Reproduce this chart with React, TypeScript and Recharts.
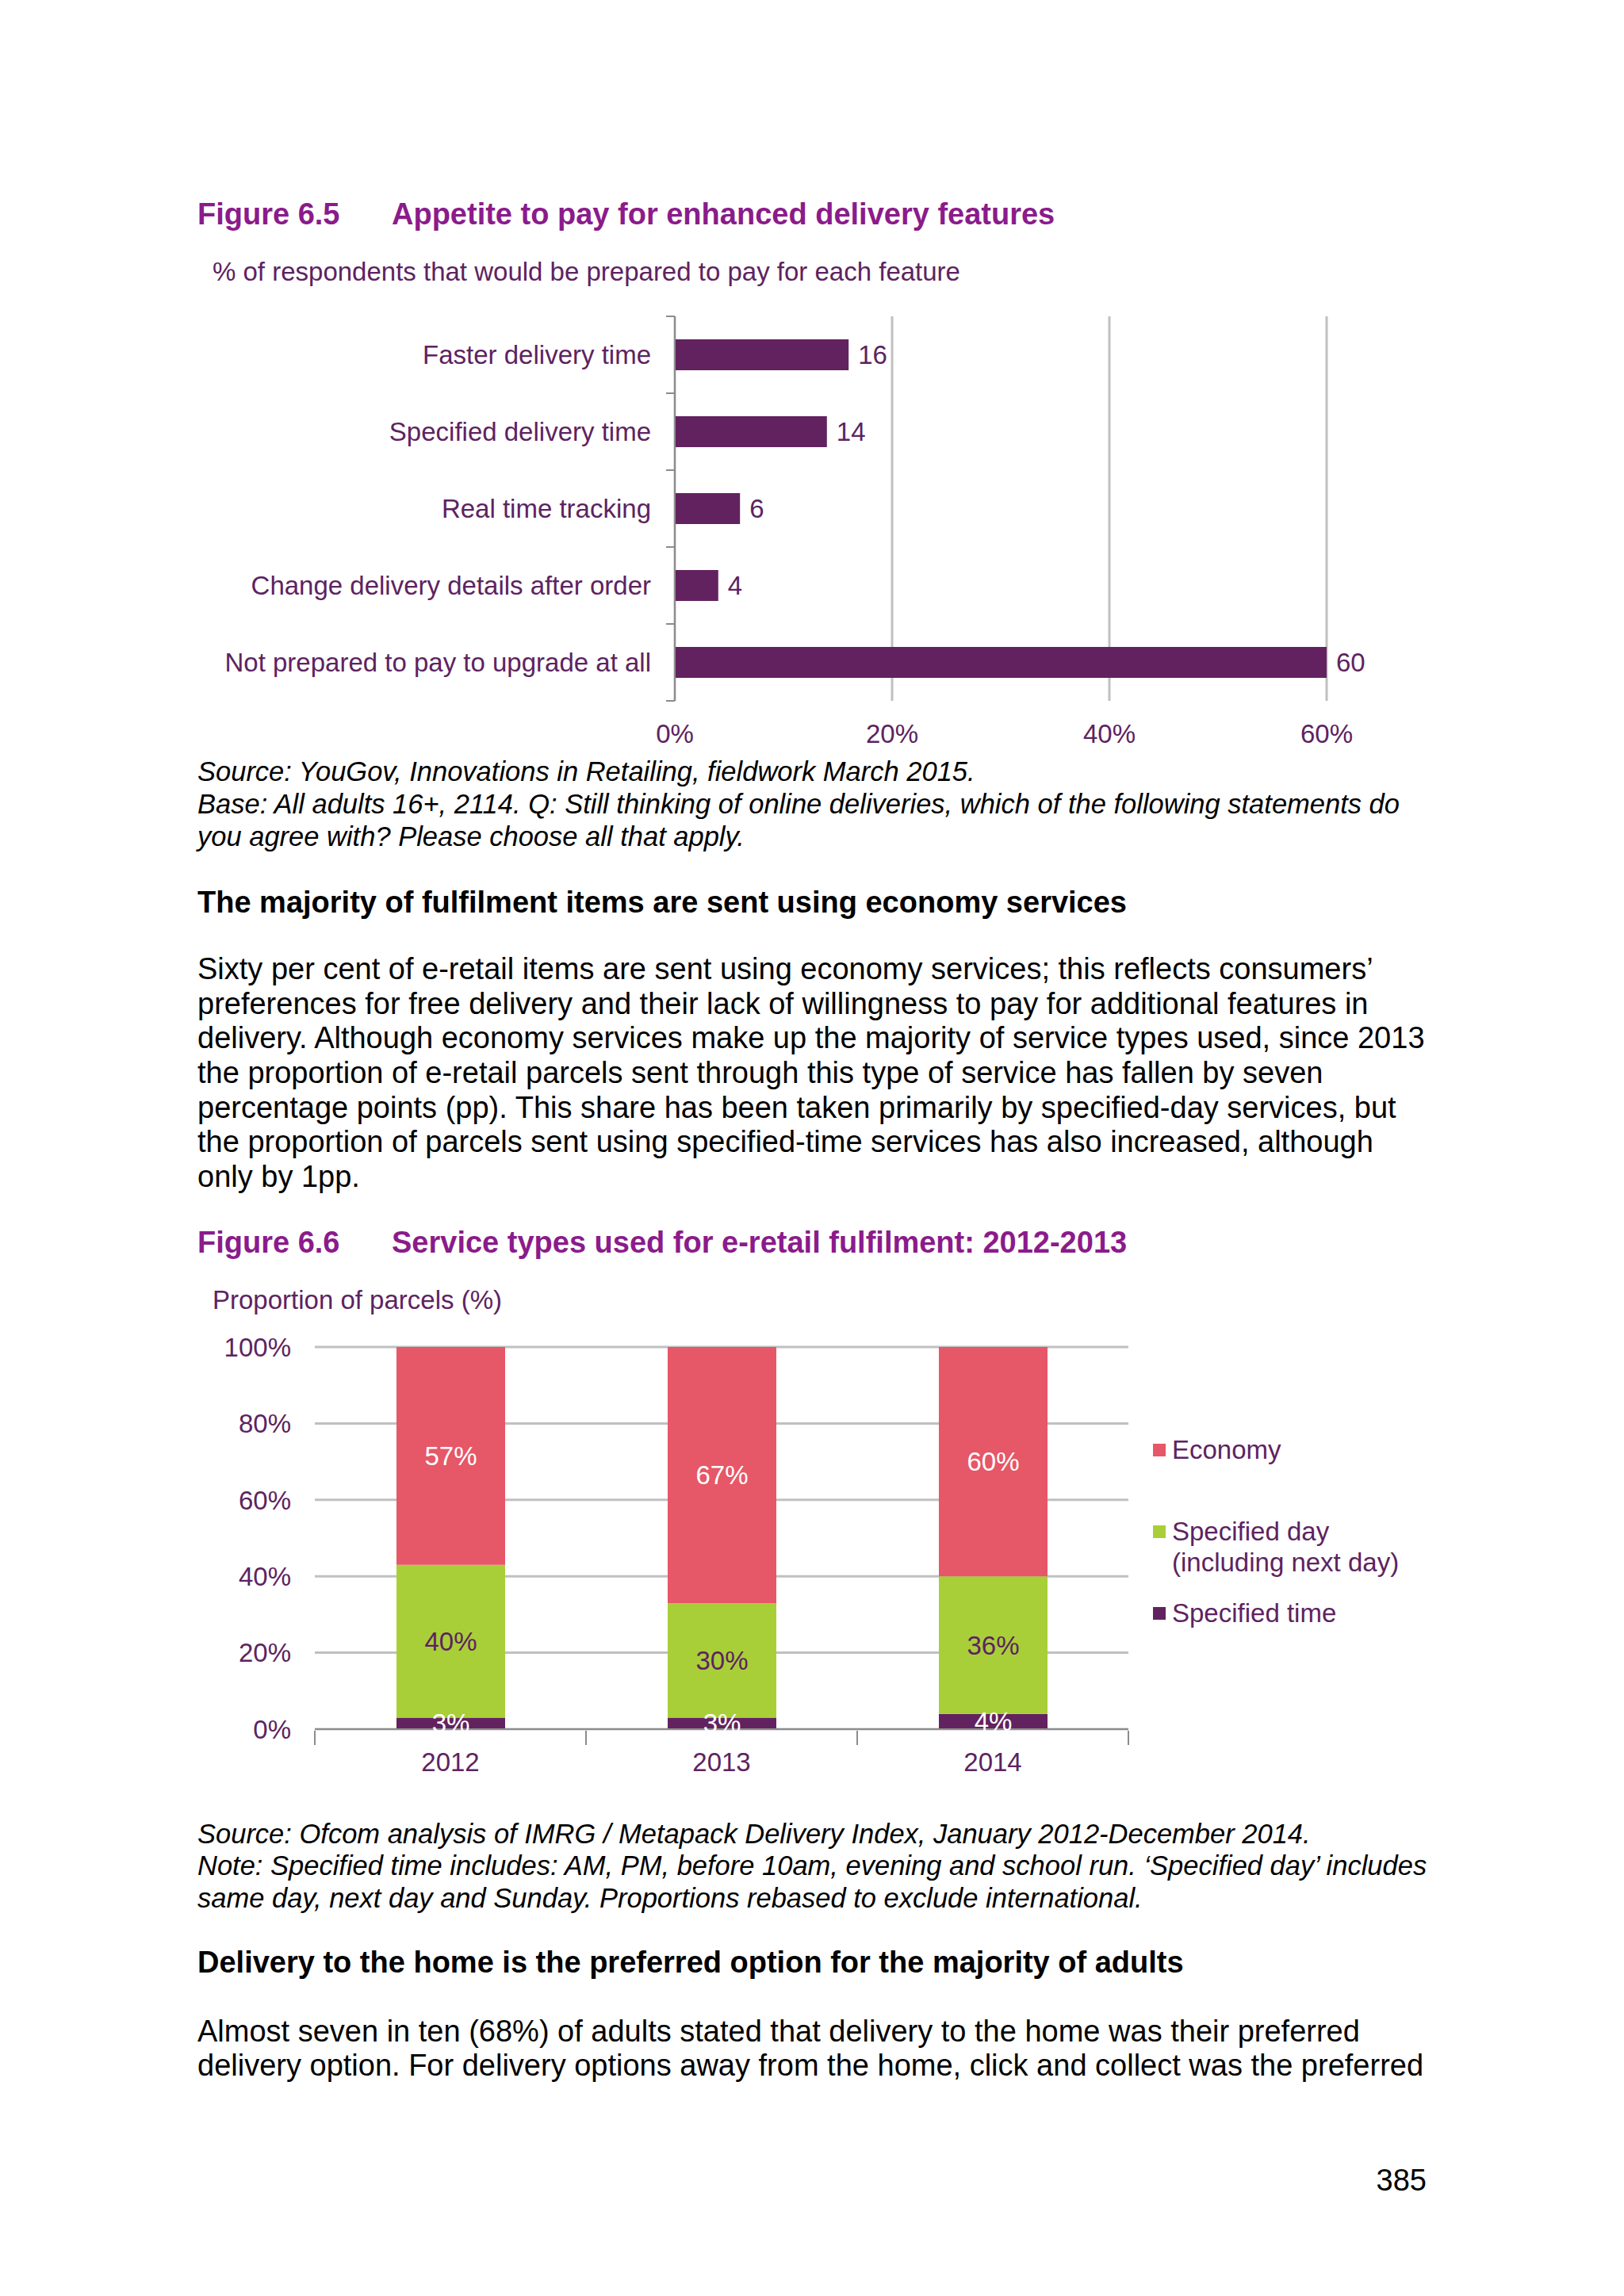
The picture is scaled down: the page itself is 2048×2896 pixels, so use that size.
import React from "react";
import {
  BarChart,
  Bar,
  XAxis,
  YAxis,
  CartesianGrid,
  LabelList,
  Legend,
} from "recharts";

// Figure 6.5 data
const features = [
  "Faster delivery time",
  "Specified delivery time",
  "Real time tracking",
  "Change delivery details after order",
  "Not prepared to pay to upgrade at all",
];
const featureShares = [16, 14, 6, 4, 60];
const featureTicks = [0, 20, 40, 60];

// Figure 6.6 data
const years = ["2012", "2013", "2014"];
const specifiedTime = [3, 3, 4];
const specifiedDay = [40, 30, 36];
const economy = [57, 67, 60];
const shareTicks = [0, 20, 40, 60, 80, 100];

const FONT = '"Liberation Sans", Arial, sans-serif';
const TITLE = "#8b1b8b";
const PURPLE = "#5d2361";
const BAR_PURPLE = "#62225f";
const GRID = "#c0c0c0";
const AXIS = "#8c8c8c";

const featureData = features.map((name, i) => ({ name, value: featureShares[i] }));
const yearData = years.map((year, i) => ({
  year,
  time: specifiedTime[i],
  day: specifiedDay[i],
  economy: economy[i],
}));

function Line({ x, y, size, bold, italic, color, children, right }: any) {
  return (
    <div
      style={{
        position: "absolute",
        left: right ? undefined : x,
        right: right ? 2048 - x : undefined,
        top: y + 2,
        transform: "translateY(-50%)",
        fontFamily: FONT,
        fontSize: size,
        fontWeight: bold ? 700 : 400,
        fontStyle: italic ? "italic" : "normal",
        color: color || "#000",
        whiteSpace: "nowrap",
        lineHeight: 1.15,
      }}
    >
      {children}
    </div>
  );
}

const BAND1 = 485 / features.length;
const FeatureTick = ({ x, y, payload, index }: any) => (
  <g>
    <text
      x={x}
      y={y}
      textAnchor="end"
      dominantBaseline="central"
      fill={PURPLE}
      fontSize={33}
      fontFamily={FONT}
    >
      {payload.value}
    </text>
    <line x1={x + 30} x2={x + 19} y1={y - BAND1 / 2} y2={y - BAND1 / 2} stroke={AXIS} strokeWidth={2} />
    {index === features.length - 1 && (
      <line x1={x + 30} x2={x + 19} y1={y + BAND1 / 2} y2={y + BAND1 / 2} stroke={AXIS} strokeWidth={2} />
    )}
  </g>
);

const PctTick = ({ x, y, payload }: any) => (
  <text
    x={x}
    y={y + 39}
    textAnchor="middle"
    dominantBaseline="central"
    fill={PURPLE}
    fontSize={33}
    fontFamily={FONT}
  >
    {payload.value}%
  </text>
);

const BAND2 = 1026 / years.length;
const YearTick = ({ x, y, payload, index }: any) => (
  <g>
    <text
      x={x}
      y={y + 39}
      textAnchor="middle"
      dominantBaseline="central"
      fill={PURPLE}
      fontSize={33}
      fontFamily={FONT}
    >
      {payload.value}
    </text>
    <line x1={x - BAND2 / 2} x2={x - BAND2 / 2} y1={y} y2={y + 18} stroke={AXIS} strokeWidth={2} />
    {index === years.length - 1 && (
      <line x1={x + BAND2 / 2} x2={x + BAND2 / 2} y1={y} y2={y + 18} stroke={AXIS} strokeWidth={2} />
    )}
  </g>
);

const legendItems = [
  { key: "economy", lines: ["Economy"] },
  { key: "day", lines: ["Specified day", "(including next day)"] },
  { key: "time", lines: ["Specified time"] },
];

const LegendContent = ({ payload }: any) => (
  <div style={{ position: "relative", fontFamily: FONT, fontSize: 33, color: PURPLE }}>
    {legendItems.map((item, i) => {
      const entry = (payload || []).find((p: any) => p.dataKey === item.key);
      return (
        <div key={item.key} style={{ position: "absolute", left: 0, top: i * 103 }}>
          <div
            style={{
              position: "absolute",
              left: 0,
              top: -8,
              width: 16,
              height: 16,
              background: entry ? entry.color : "#000",
            }}
          />
          {item.lines.map((ln, j) => (
            <div
              key={j}
              style={{
                position: "absolute",
                left: 24,
                top: j * 39,
                transform: "translateY(-50%)",
                whiteSpace: "nowrap",
                lineHeight: 1.15,
              }}
            >
              {ln}
            </div>
          ))}
        </div>
      );
    })}
  </div>
);

export default function App() {
  return (
    <div
      style={{
        position: "absolute",
        left: 0,
        top: 0,
        width: 2048,
        height: 2896,
        background: "#fff",
        overflow: "hidden",
      }}
    >
      <Line x={249} y={269} size={38} bold color={TITLE}>Figure 6.5</Line>
      <Line x={494} y={269} size={38} bold color={TITLE}>Appetite to pay for enhanced delivery features</Line>
      <Line x={268} y={341} size={33} color={PURPLE}>% of respondents that would be prepared to pay for each feature</Line>

      <div style={{ position: "absolute", left: 202, top: 382 }}>
        <BarChart
          width={1600}
          height={580}
          data={featureData}
          layout="vertical"
          margin={{ top: 17, right: 129, bottom: 18, left: 0 }}
        >
          <CartesianGrid horizontal={false} stroke={GRID} strokeWidth={3} />
          <XAxis
            type="number"
            domain={[0, 60]}
            ticks={featureTicks}
            axisLine={false}
            tickLine={false}
            tickSize={0}
            height={60}
            tick={<PctTick />}
            interval={0}
          />
          <YAxis
            type="category"
            dataKey="name"
            width={649}
            axisLine={{ stroke: AXIS, strokeWidth: 2 }}
            tickLine={false}
            tickSize={0}
            tickMargin={30}
            tick={<FeatureTick />}
            interval={0}
          />
          <Bar dataKey="value" fill={BAR_PURPLE} barSize={39} isAnimationActive={false}>
            <LabelList
              dataKey="value"
              position="right"
              offset={12}
              fill={PURPLE}
              fontSize={33}
              fontFamily={FONT}
            />
          </Bar>
        </BarChart>
      </div>

      <Line x={249} y={972} size={34.5} italic>Source: YouGov, Innovations in Retailing, fieldwork March 2015.</Line>
      <Line x={249} y={1013} size={34.5} italic>Base: All adults 16+, 2114. Q: Still thinking of online deliveries, which of the following statements do</Line>
      <Line x={249} y={1054} size={34.5} italic>you agree with? Please choose all that apply.</Line>

      <Line x={249} y={1137} size={38} bold>The majority of fulfilment items are sent using economy services</Line>

      <Line x={249} y={1221} size={38}>Sixty per cent of e-retail items are sent using economy services; this reflects consumers’</Line>
      <Line x={249} y={1265} size={38}>preferences for free delivery and their lack of willingness to pay for additional features in</Line>
      <Line x={249} y={1308} size={38}>delivery. Although economy services make up the majority of service types used, since 2013</Line>
      <Line x={249} y={1352} size={38}>the proportion of e-retail parcels sent through this type of service has fallen by seven</Line>
      <Line x={249} y={1396} size={38}>percentage points (pp). This share has been taken primarily by specified-day services, but</Line>
      <Line x={249} y={1439} size={38}>the proportion of parcels sent using specified-time services has also increased, although</Line>
      <Line x={249} y={1483} size={38}>only by 1pp.</Line>

      <Line x={249} y={1566} size={38} bold color={TITLE}>Figure 6.6</Line>
      <Line x={494} y={1566} size={38} bold color={TITLE}>Service types used for e-retail fulfilment: 2012-2013</Line>
      <Line x={268} y={1638} size={33} color={PURPLE}>Proportion of parcels (%)</Line>

      <div style={{ position: "absolute", left: 202, top: 1662 }}>
        <BarChart
          width={1600}
          height={600}
          data={yearData}
          margin={{ top: 37, right: 379, bottom: 21, left: 0 }}
        >
          <CartesianGrid vertical={false} stroke={GRID} strokeWidth={3} />
          <XAxis
            dataKey="year"
            axisLine={{ stroke: AXIS, strokeWidth: 2 }}
            tickLine={false}
            tickSize={0}
            height={60}
            tick={<YearTick />}
            interval={0}
          />
          <YAxis
            type="number"
            domain={[0, 100]}
            ticks={shareTicks}
            width={195}
            axisLine={false}
            tickLine={false}
            tickSize={0}
            tickMargin={30}
            tickFormatter={(v: number) => `${v}%`}
            tick={{ fill: PURPLE, fontSize: 33, fontFamily: FONT }}
          />
          <Legend
            layout="vertical"
            align="center"
            verticalAlign="middle"
            content={<LegendContent />}
            wrapperStyle={{ left: 1252, top: 167, width: 340, height: 260 }}
          />
          <Bar dataKey="time" name="Specified time" stackId="s" fill={BAR_PURPLE} barSize={137} isAnimationActive={false}>
            <LabelList
              dataKey="time"
              position="center"
              formatter={(v: any) => `${v}%`}
              fill="#ffffff"
              fontSize={33}
              fontFamily={FONT}
            />
          </Bar>
          <Bar dataKey="day" name="Specified day (including next day)" stackId="s" fill="#a9cf38" barSize={137} isAnimationActive={false}>
            <LabelList
              dataKey="day"
              position="center"
              formatter={(v: any) => `${v}%`}
              fill={PURPLE}
              fontSize={33}
              fontFamily={FONT}
            />
          </Bar>
          <Bar dataKey="economy" name="Economy" stackId="s" fill="#e65767" barSize={137} isAnimationActive={false}>
            <LabelList
              dataKey="economy"
              position="center"
              formatter={(v: any) => `${v}%`}
              fill="#ffffff"
              fontSize={33}
              fontFamily={FONT}
            />
          </Bar>
        </BarChart>
      </div>

      <Line x={249} y={2312} size={34.5} italic>Source: Ofcom analysis of IMRG / Metapack Delivery Index, January 2012-December 2014.</Line>
      <Line x={249} y={2352} size={34.5} italic>Note: Specified time includes: AM, PM, before 10am, evening and school run. ‘Specified day’ includes</Line>
      <Line x={249} y={2393} size={34.5} italic>same day, next day and Sunday. Proportions rebased to exclude international.</Line>

      <Line x={249} y={2474} size={38} bold>Delivery to the home is the preferred option for the majority of adults</Line>

      <Line x={249} y={2561} size={38}>Almost seven in ten (68%) of adults stated that delivery to the home was their preferred</Line>
      <Line x={249} y={2604} size={38}>delivery option. For delivery options away from the home, click and collect was the preferred</Line>

      <Line x={1799} y={2749} size={38} right>385</Line>
    </div>
  );
}
